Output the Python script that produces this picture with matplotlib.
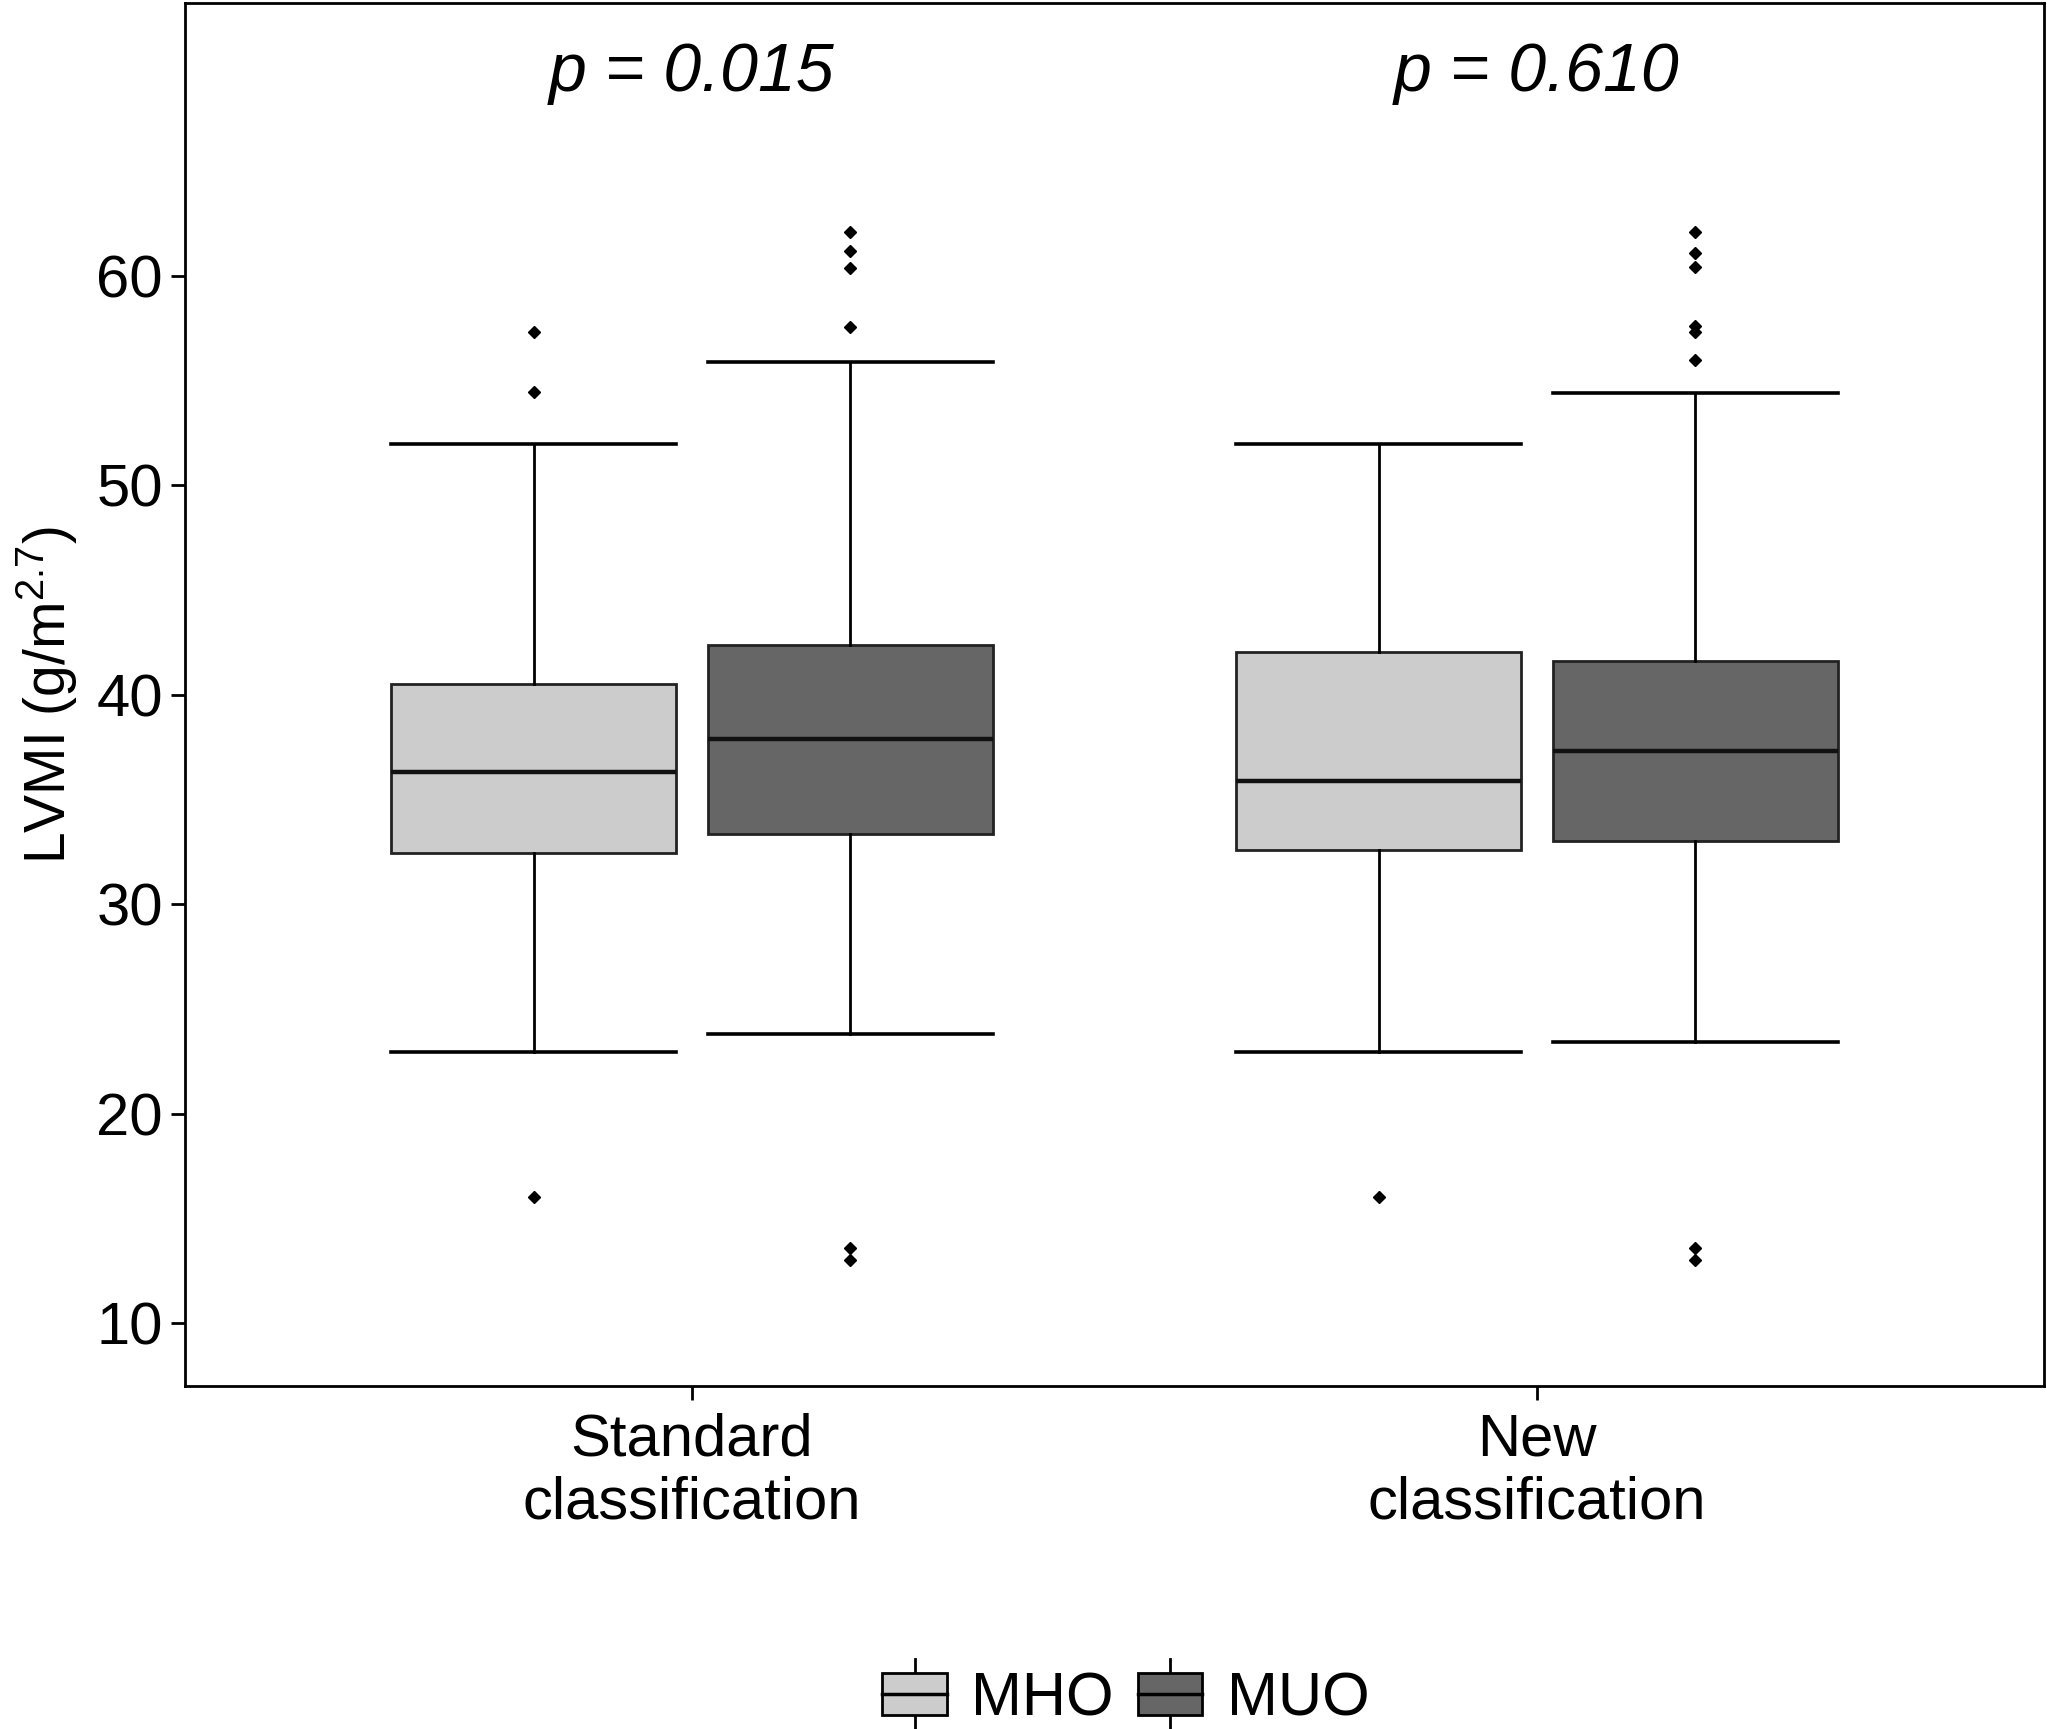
import matplotlib
matplotlib.use("Agg")
import matplotlib.pyplot as plt
from matplotlib.legend_handler import HandlerBase
from matplotlib.patches import Rectangle
from matplotlib.lines import Line2D

plt.rcParams["font.family"] = ["Liberation Sans", "DejaVu Sans"]
plt.rcParams["mathtext.fontset"] = "custom"
plt.rcParams["mathtext.rm"] = "Liberation Sans"
plt.rcParams["mathtext.it"] = "Liberation Sans:italic"

# Данные
groups = ["Standard\nclassification", "New\nclassification"]
p_labels = ["p = 0.015", "p = 0.610"]

mho_lo = [22.95, 22.95]
mho_q1 = [32.45, 32.6]
mho_med = [36.3, 35.9]
mho_q3 = [40.5, 42.05]
mho_hi = [51.95, 51.95]
mho_fliers = [[57.3, 54.45, 16.0], [16.0]]

muo_lo = [23.8, 23.4]
muo_q1 = [33.35, 33.0]
muo_med = [37.9, 37.3]
muo_q3 = [42.35, 41.6]
muo_hi = [55.9, 54.4]
muo_fliers = [[62.1, 61.2, 60.35, 57.55, 13.6, 13.0],
              [62.1, 61.1, 60.4, 57.6, 57.3, 56.0, 13.6, 13.0]]

series = {
    "MHO": (mho_lo, mho_q1, mho_med, mho_q3, mho_hi, mho_fliers, "#cccccc", -0.1875),
    "MUO": (muo_lo, muo_q1, muo_med, muo_q3, muo_hi, muo_fliers, "#666666", 0.1875),
}

fig = plt.figure(figsize=(20.47, 17.29), dpi=100)
ax = fig.add_axes([0.0904, 0.1984, 0.9081, 0.7996])

box_w = 0.3375
for name, (lo, q1, med, q3, hi, fl, col, off) in series.items():
    stats = []
    for i in range(len(groups)):
        stats.append({"whislo": lo[i], "q1": q1[i], "med": med[i], "q3": q3[i],
                      "whishi": hi[i], "fliers": fl[i]})
    pos = [i + 1 + off for i in range(len(groups))]
    ax.bxp(stats, positions=pos, widths=box_w, capwidths=box_w, patch_artist=True,
           boxprops=dict(facecolor=col, edgecolor="#222222", linewidth=2.0),
           medianprops=dict(color="#111111", linewidth=3.2),
           whiskerprops=dict(color="black", linewidth=2.0),
           capprops=dict(color="black", linewidth=2.6),
           flierprops=dict(marker="D", markersize=6.5, markerfacecolor="black",
                           markeredgecolor="black"),
           zorder=2)

for i, t in enumerate(p_labels):
    ax.text(i + 1, 69.7, t, ha="center", va="center", fontsize=49, style="italic")

ax.set_xlim(0.4, 2.6)
ax.set_ylim(7, 73)
ax.set_xticks([1, 2])
ax.set_xticklabels(groups, fontsize=43, linespacing=1.2)
ax.set_yticks([10, 20, 30, 40, 50, 60])
ax.tick_params(axis="both", labelsize=43, length=10, width=2, pad=6)
ax.tick_params(axis="x", pad=9)
ax.set_ylabel("LVMI (g/m$^{2.7}$)", fontsize=41, labelpad=12)
for s in ax.spines.values():
    s.set_linewidth(2)


class HandlerBox(HandlerBase):
    def create_artists(self, legend, orig_handle, xdescent, ydescent, width, height,
                       fontsize, trans):
        x0, y0 = -xdescent, -ydescent
        ext = height * 0.32
        cx = x0 + width / 2
        arts = [
            Line2D([cx, cx], [y0 - ext, y0 + height + ext], color="black", lw=2),
            Rectangle((x0, y0), width, height, facecolor=orig_handle.get_facecolor(),
                      edgecolor="black", lw=2),
            Line2D([x0, x0 + width], [y0 + height / 2] * 2, color="black", lw=2.5),
        ]
        for a in arts:
            a.set_transform(trans)
        return arts


handles = [Rectangle((0, 0), 1, 1, facecolor=v[6]) for v in series.values()]
fig.legend(handles, list(series.keys()), handler_map={Rectangle: HandlerBox()},
           loc="center", bbox_to_anchor=(0.55, 0.017), ncol=2, frameon=False,
           fontsize=44, handlelength=1.05, handleheight=0.68, handletextpad=0.4,
           columnspacing=0.4)

fig.savefig("out.png", dpi=100)
